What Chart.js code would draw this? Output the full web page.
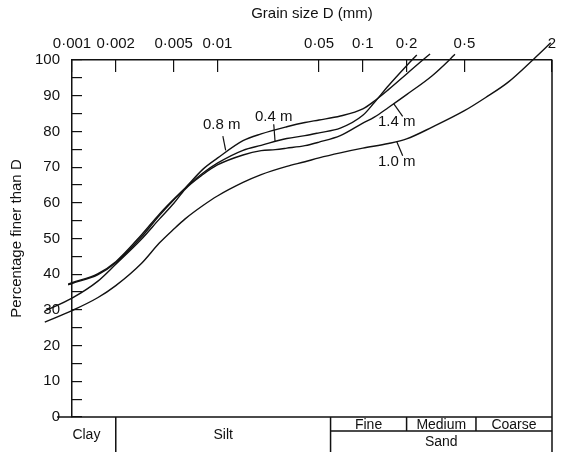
<!DOCTYPE html>
<html>
<head>
<meta charset="utf-8">
<title>Grain size distribution</title>
<script src="https://cdn.jsdelivr.net/npm/chart.js@4.4.1/dist/chart.umd.min.js"></script>
<style>
  html, body { margin: 0; padding: 0; background: #fff; }
</style>
</head>
<body>
<canvas id="grain" width="563" height="452"></canvas>
<script>
// ticks on the grain size axis (mm)
const sizeTicks = [0.001, 0.002, 0.005, 0.01, 0.05, 0.1, 0.2, 0.5, 2];

// curves: grain size D (mm) -> percentage finer than D
const sizes08 = [0.00094, 0.001, 0.0015, 0.002, 0.003, 0.004, 0.005, 0.006, 0.008, 0.01, 0.015, 0.02, 0.03, 0.04, 0.05, 0.07, 0.1, 0.12, 0.15, 0.2, 0.25, 0.29];
const pct08 = [37.0, 37.4, 39.8, 43.2, 50.4, 56.5, 60.8, 64.1, 69.5, 72.5, 77.4, 79.3, 81.3, 82.5, 83.2, 84.3, 86.3, 88.5, 91.7, 96.1, 99.5, 101.7];

const sizes04 = [0.00094, 0.001, 0.0015, 0.002, 0.003, 0.004, 0.005, 0.006, 0.008, 0.01, 0.015, 0.02, 0.03, 0.04, 0.05, 0.07, 0.1, 0.12, 0.15, 0.2, 0.235];
const pct04 = [37.2, 37.6, 40.1, 43.5, 51.0, 56.9, 61.0, 64.1, 68.4, 71.1, 74.7, 76.1, 78.0, 78.8, 79.6, 80.9, 84.5, 88.1, 92.8, 98.4, 101.4];

const sizes14 = [0.00065, 0.001, 0.0015, 0.002, 0.003, 0.004, 0.005, 0.006, 0.008, 0.01, 0.015, 0.02, 0.025, 0.03, 0.04, 0.05, 0.07, 0.1, 0.12, 0.15, 0.2, 0.3, 0.4, 0.43];
const pct14 = [29.7, 33.3, 38.0, 42.8, 49.8, 55.5, 59.8, 63.8, 68.0, 70.6, 73.4, 74.6, 74.9, 75.3, 76.0, 77.0, 78.8, 82.3, 84.0, 86.7, 90.3, 95.6, 100.3, 101.6];

const sizes10 = [0.00065, 0.001, 0.0015, 0.002, 0.003, 0.004, 0.005, 0.006, 0.008, 0.01, 0.015, 0.02, 0.03, 0.04, 0.05, 0.07, 0.1, 0.15, 0.2, 0.3, 0.5, 0.7, 1, 1.5, 1.96];
const pct10 = [26.6, 29.8, 33.4, 36.8, 43.0, 48.8, 52.6, 55.5, 59.3, 61.9, 65.7, 67.9, 70.2, 71.5, 72.6, 74.0, 75.3, 76.6, 77.9, 81.2, 85.8, 89.5, 93.8, 100.3, 104.8];

// soil classes under the plot (limits in mm)
const classNames = ["Clay", "Silt"];
const classLimits = [0.002, 0.06];
const sandNames = ["Fine", "Medium", "Coarse"];
const sandLimits = [0.2, 0.6];

// depth labels, in data units: label centre, leader start and leader end on the curve
const depthNames = ["0.8 m", "0.4 m", "1.4 m", "1.0 m"];
const labelAt = [[0.0107, 81.8], [0.0244, 84.0], [0.171, 82.6], [0.171, 71.4]];
const leaderFrom = [[0.0109, 78.7], [0.0244, 82.0], [0.188, 84.2], [0.188, 73.2]];
const leaderTo = [[0.0114, 74.7], [0.0249, 77.3], [0.163, 87.8], [0.171, 77.2]];

const INK = "#111";
const FONT = "'Liberation Sans', Arial, sans-serif";
Chart.defaults.font.family = FONT;
Chart.defaults.color = INK;

const curve = (sizes, pcts) => sizes.map((s, i) => ({ x: s, y: pcts[i] }));

const lineStyle = {
    borderColor: INK,
    borderWidth: 1.4,
    pointRadius: 0,
    fill: false,
    cubicInterpolationMode: "monotone",
    capBezierPoints: false,
    clip: false,
};

// frame, soil class table and depth labels, placed through the chart scales
const extras = {
    id: "extras",
    afterDraw(chart) {
        const { ctx, chartArea: a, scales: { x, y } } = chart;
        const px = (v) => x.getPixelForValue(v);
        const rowY = a.bottom + 14;
        const baseY = chart.height;
        const sandLeft = px(classLimits[1]);

        ctx.save();
        ctx.strokeStyle = INK;
        ctx.fillStyle = INK;
        ctx.lineWidth = 1.5;
        ctx.beginPath();
        ctx.moveTo(a.right, a.top);
        ctx.lineTo(a.right, baseY);
        ctx.moveTo(a.left - 15, a.bottom);
        ctx.lineTo(a.right, a.bottom);
        classLimits.forEach((v) => {
            ctx.moveTo(px(v), a.bottom);
            ctx.lineTo(px(v), baseY);
        });
        ctx.moveTo(sandLeft, rowY);
        ctx.lineTo(a.right, rowY);
        sandLimits.forEach((v) => {
            ctx.moveTo(px(v), a.bottom);
            ctx.lineTo(px(v), rowY);
        });
        ctx.stroke();

        ctx.font = "14px " + FONT;
        ctx.textAlign = "center";
        ctx.textBaseline = "middle";
        const edges = [a.left - 15, ...classLimits.map(px)];
        classNames.forEach((name, i) => {
            ctx.fillText(name, (edges[i] + edges[i + 1]) / 2, (a.bottom + baseY) / 2 + 1);
        });
        const sandEdges = [sandLeft, ...sandLimits.map(px), a.right];
        sandNames.forEach((name, i) => {
            ctx.fillText(name, (sandEdges[i] + sandEdges[i + 1]) / 2, (a.bottom + rowY) / 2 + 1);
        });
        ctx.fillText("Sand", (sandLeft + a.right) / 2, (rowY + baseY) / 2 + 1);

        // depth labels with their leaders
        ctx.font = "15px " + FONT;
        ctx.lineWidth = 1.2;
        depthNames.forEach((name, i) => {
            ctx.fillText(name, px(labelAt[i][0]), y.getPixelForValue(labelAt[i][1]));
            ctx.beginPath();
            ctx.moveTo(px(leaderFrom[i][0]), y.getPixelForValue(leaderFrom[i][1]));
            ctx.lineTo(px(leaderTo[i][0]), y.getPixelForValue(leaderTo[i][1]));
            ctx.stroke();
        });
        ctx.restore();
    },
};

new Chart(document.getElementById("grain"), {
    type: "line",
    data: {
        datasets: [
            { label: depthNames[0], data: curve(sizes08, pct08), ...lineStyle },
            { label: depthNames[1], data: curve(sizes04, pct04), ...lineStyle },
            { label: depthNames[2], data: curve(sizes14, pct14), ...lineStyle },
            { label: depthNames[3], data: curve(sizes10, pct10), ...lineStyle },
        ],
    },
    options: {
        responsive: false,
        devicePixelRatio: 1,
        animation: false,
        layout: { padding: { left: 0, top: 0, right: 11, bottom: 35 } },
        plugins: { legend: { display: false }, tooltip: { enabled: false } },
        scales: {
            x: {
                type: "logarithmic",
                position: "top",
                min: 0.001,
                max: 2,
                afterBuildTicks: (s) => { s.ticks = sizeTicks.map((v) => ({ value: v })); },
                afterFit: (s) => {
                    s.height = 60;
                    // tick padding is counted into the side padding; the "2" label may overhang
                    s.paddingLeft = 0;
                    s.paddingRight = 0;
                },
                ticks: {
                    autoSkip: false,
                    maxRotation: 0,
                    padding: 19,
                    font: { size: 15 },
                    callback: (v) => String(v).replace(".", "·"),
                },
                grid: { drawOnChartArea: false, tickLength: -12, color: INK, lineWidth: 1.2 },
                border: { color: INK, width: 1.5 },
                title: { display: true, text: "Grain size D (mm)", font: { size: 15 }, padding: { top: 5, bottom: 0 } },
            },
            y: {
                min: 0,
                max: 100,
                afterFit: (s) => { s.width = 72; },
                ticks: {
                    stepSize: 5,
                    autoSkip: false,
                    padding: 22,
                    font: { size: 15 },
                    callback: (v) => (v % 10 === 0 ? v : ""),
                },
                grid: { drawOnChartArea: false, tickLength: -10, color: INK, lineWidth: 1.2 },
                border: { color: INK, width: 1.5 },
                title: { display: true, text: "Percentage finer than D", font: { size: 15 }, padding: { top: 8, bottom: 0 } },
            },
        },
    },
    plugins: [extras],
});
</script>
</body>
</html>
